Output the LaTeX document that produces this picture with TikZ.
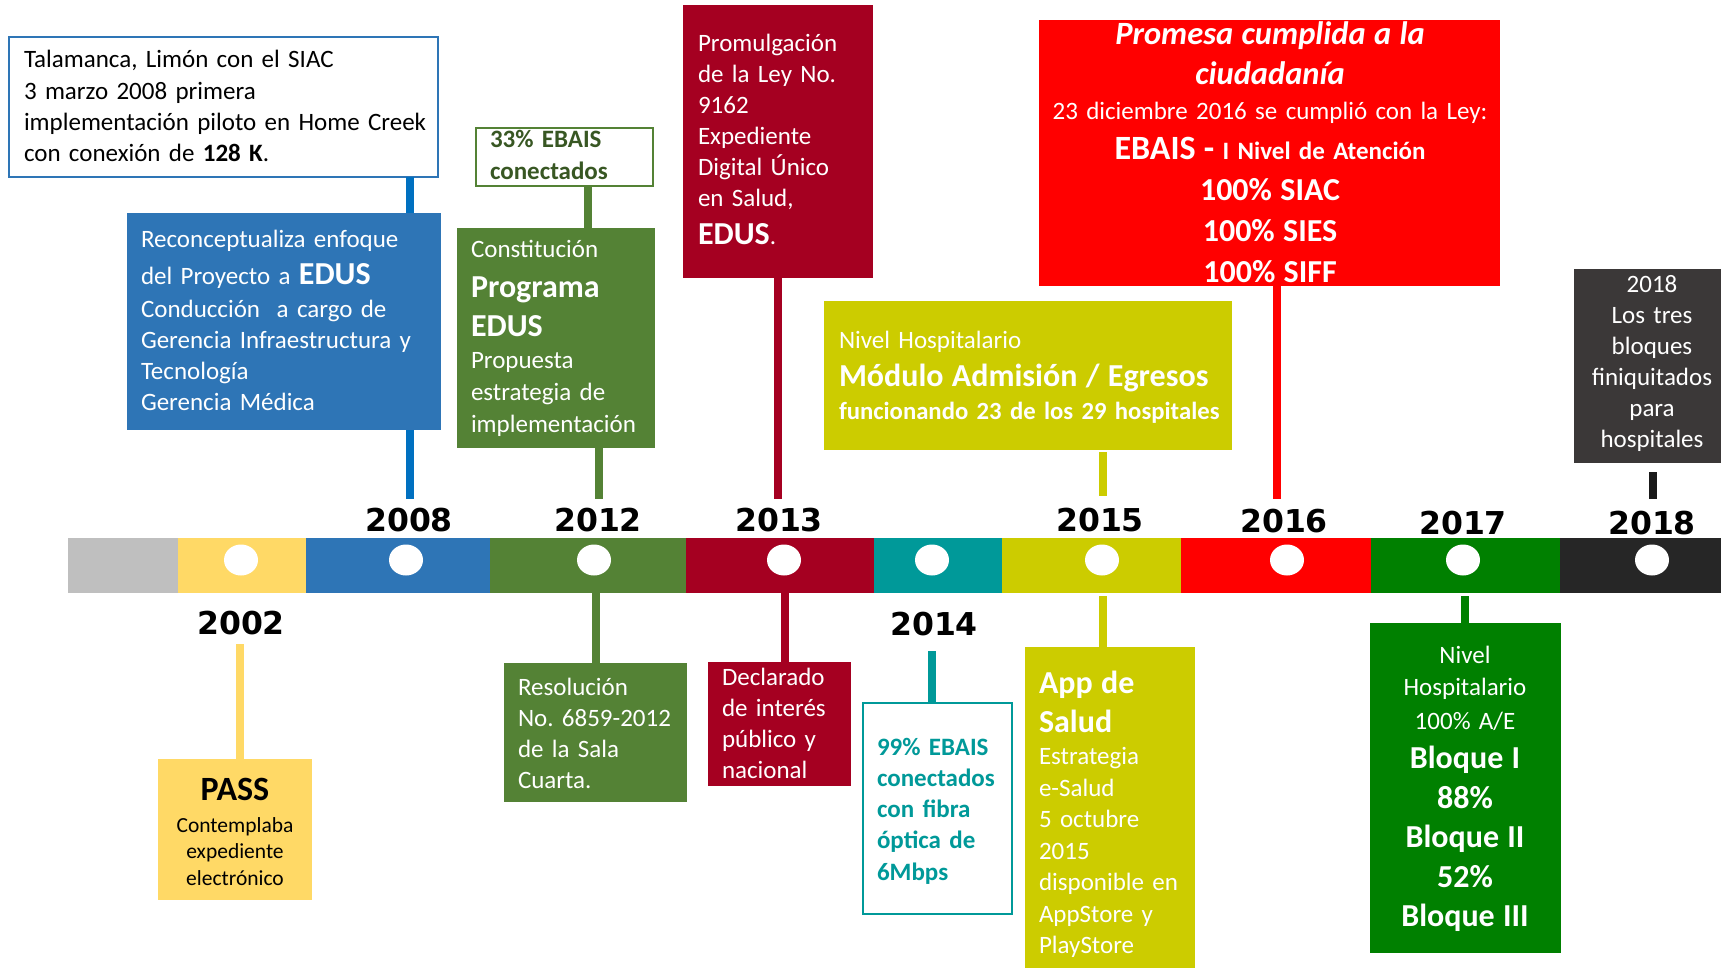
\documentclass[tikz,border=0pt]{standalone}
\usepackage{fontspec}
\setmainfont{Carlito}
\newfontfamily\yearfont{DejaVu Sans}
\usetikzlibrary{shapes.geometric}
\newcommand\myfs[2]{\fontsize{#1}{#2}\selectfont}
\frenchspacing
\definecolor{cgray}{HTML}{BFBFBF}
\definecolor{cyellow}{HTML}{FFD966}
\definecolor{cblue}{HTML}{2E75B6}
\definecolor{cblueL}{HTML}{0070C0}
\definecolor{cgreen}{HTML}{548235}
\definecolor{cdkgreen}{HTML}{385723}
\definecolor{cdred}{HTML}{A50021}
\definecolor{cteal}{HTML}{009999}
\definecolor{colive}{HTML}{CCCC00}
\definecolor{cred}{HTML}{FF0000}
\definecolor{cgreenB}{HTML}{008000}
\definecolor{cdark}{HTML}{262626}
\definecolor{cdarkbox}{HTML}{3B3838}
\definecolor{cdarkline}{HTML}{1A1A1A}
\begin{document}
\begin{tikzpicture}[x=1pt,y=-1pt,
  seg/.style={rectangle, inner sep=0, outer sep=0, anchor=north west, minimum height=55},
  box/.style={rectangle, inner sep=0, outer sep=0, anchor=north west},
  txt/.style={inner sep=0, outer sep=0, anchor=base west, align=left, text width=#1, font=\frenchspacing\myfs{25}{31}, text=white},
  ctxt/.style={inner sep=0, outer sep=0, anchor=base, align=center, text width=#1, font=\frenchspacing\myfs{25}{31}, text=white},
  conn/.style={line width=8pt},
  year/.style={font=\yearfont\bfseries\myfs{31.5}{36}, anchor=base, inner sep=0, outer sep=0},
  dot/.style={ellipse, fill=white, minimum width=34, minimum height=31, inner sep=0}]
\useasboundingbox (0,0) rectangle (1721,968);
\fill[white] (0,0) rectangle (1721,968);

% ---- timeline bar ----
\node[seg, fill=cgray,   minimum width=110] (s0) at (68,538) {};
\node[seg, fill=cyellow, minimum width=128] (s1) at (178,538) {};
\node[seg, fill=cblue,   minimum width=184] (s2) at (306,538) {};
\node[seg, fill=cgreen,  minimum width=196] (s3) at (490,538) {};
\node[seg, fill=cdred,   minimum width=188] (s4) at (686,538) {};
\node[seg, fill=cteal,   minimum width=128] (s5) at (874,538) {};
\node[seg, fill=colive,  minimum width=179] (s6) at (1002,538) {};
\node[seg, fill=cred,    minimum width=190] (s7) at (1181,538) {};
\node[seg, fill=cgreenB, minimum width=189] (s8) at (1371,538) {};
\node[seg, fill=cdark,   minimum width=161] (s9) at (1560,538) {};

\node[dot] (d2002) at (241,560) {};
\node[dot] (d2008) at (406,560) {};
\node[dot] (d2012) at (594,560) {};
\node[dot] (d2013) at (784,560) {};
\node[dot] (d2014) at (932,560) {};
\node[dot] (d2015) at (1102,560) {};
\node[dot] (d2016) at (1287,560) {};
\node[dot] (d2017) at (1463,560) {};
\node[dot] (d2018) at (1652,560) {};

% ---- year labels ----
\node[year] (y2008) at (409,531) {2008};
\node[year] (y2012) at (598,531) {2012};
\node[year] (y2013) at (779,531) {2013};
\node[year] (y2015) at (1100,531) {2015};
\node[year] (y2016) at (1284,532) {2016};
\node[year] (y2017) at (1463,534) {2017};
\node[year] (y2018) at (1652,534) {2018};
\node[year] (y2002) at (241,634) {2002};
\node[year] (y2014) at (934,635) {2014};

% ---- connector x positions ----
\coordinate (k2008) at (410,0);
\coordinate (k2012a) at (588,0);
\coordinate (k2012b) at (599,0);
\coordinate (k2012c) at (596,0);
\coordinate (k2013a) at (778,0);
\coordinate (k2013b) at (785,0);
\coordinate (k2015) at (1103,0);
\coordinate (k2016) at (1277,0);
\coordinate (k2018) at (1653,0);
\coordinate (k2002) at (240,0);
\coordinate (k2014) at (932,0);
\coordinate (k2017) at (1465,0);

% ---- boxes above ----
\node[box, draw=cblue, line width=2pt, fill=white, minimum width=429, minimum height=140] (tala) at (9,37) {};
\node[txt=430, text=black] at (24,68) {\myfs{25}{31.3}Talamanca, Limón con el SIAC\par
3 marzo 2008 primera\par
implementación piloto en Home Creek\par
con conexión de \textbf{128 K}.\par};

\node[box, fill=cblue, minimum width=314, minimum height=217] (blue) at (127,213) {};
\node[txt=300] at (141,248) {{\myfs{25}{31}Reconceptualiza enfoque\par}
{\myfs{25}{37}del Proyecto a {\myfs{32}{37}\bfseries EDUS}\par}
{\myfs{25}{33}Conducción~ a cargo de\par}
{\myfs{25}{31}Gerencia Infraestructura y\par Tecnología\par Gerencia Médica\par}};

\node[box, draw=cgreen, line width=2pt, fill=white, minimum width=177, minimum height=58] (e33) at (476,128) {};
\node[txt=170, text=cdkgreen, font=\frenchspacing\myfs{25}{32}\bfseries] at (490,148) {33\% EBAIS\par conectados\par};

\node[box, fill=cgreen, minimum width=198, minimum height=220] (green) at (457,228) {};
\node[txt=190] at (471,258) {{\myfs{25}{31}Constitución\par}
{\myfs{32}{39.5}\bfseries Programa\par EDUS\par}
{\myfs{25}{32}Propuesta\par estrategia de\par implementación\par}};

\node[box, fill=cdred, minimum width=190, minimum height=273] (prom) at (683,5) {};
\node[txt=180] at (698,52) {{\myfs{25}{31}Promulgación\par de la Ley No.\par 9162\par Expediente\par Digital Único\par en Salud,\par}
{\myfs{25}{38}{\myfs{32}{38}\bfseries EDUS}.\par}};

\node[box, fill=cred, minimum width=461, minimum height=266] (promesa) at (1039,20) {};
\node[ctxt=460] at (1270,45) {{\myfs{32.5}{40}\bfseries\itshape Promesa cumplida a la\par ciudadanía\par}
{\myfs{25}{35}23 diciembre 2016 se cumplió con la Ley:\par}
{\myfs{34}{40}\bfseries EBAIS - {\myfs{25}{40}I Nivel de Atención}\par}
{\myfs{32}{41}\bfseries 100\% SIAC\par 100\% SIES\par 100\% SIFF\par}};

\node[box, fill=colive, minimum width=408, minimum height=149] (modulo) at (824,301) {};
\node[txt=400] at (839,348) {{\myfs{25}{31}Nivel Hospitalario\par}
{\myfs{32}{39}\bfseries Módulo Admisión / Egresos\par}
{\myfs{24.7}{32}\bfseries funcionando 23 de los 29 hospitales\par}};

\node[box, fill=cdarkbox, minimum width=147, minimum height=194] (dark) at (1574,269) {};
\node[ctxt=150, font=\myfs{25}{30.8}] at (1652,293) {2018\par Los tres\par bloques\par finiquitados\par para\par hospitales\par};

% ---- boxes below ----
\node[box, fill=cyellow, minimum width=154, minimum height=141] (pass) at (158,759) {};
\node[ctxt=150, text=black] at (235,800) {{\myfs{34}{40}\bfseries PASS\par}
{\myfs{21.5}{32}Contemplaba\par}
{\myfs{21.5}{26.5}expediente\par electrónico\par}};

\node[box, fill=cgreen, minimum width=183, minimum height=139] (resol) at (504,663) {};
\node[txt=170] at (518,695) {Resolución\par No. 6859-2012\par de la Sala\par Cuarta.\par};

\node[box, fill=cdred, minimum width=143, minimum height=124] (decl) at (708,662) {};
\node[txt=135] at (722,685) {Declarado\par de interés\par público y\par nacional\par};

\node[box, draw=cteal, line width=2pt, fill=white, minimum width=149, minimum height=211] (fibra) at (863,703) {};
\node[txt=140, text=cteal, font=\frenchspacing\myfs{25}{31.3}\bfseries] at (877,755) {99\% EBAIS\par conectados\par con fibra\par óptica de\par 6Mbps\par};

\node[box, fill=colive, minimum width=170, minimum height=321] (app) at (1025,647) {};
\node[txt=160] at (1039,693) {{\myfs{32}{39}\bfseries App de\par Salud\par}
{\myfs{25}{32.5}Estrategia\par}
{\myfs{25}{31.5}e-Salud\par 5 octubre\par 2015\par disponible en\par AppStore y\par PlayStore\par}};

\node[box, fill=cgreenB, minimum width=191, minimum height=330] (bloques) at (1370,623) {};
\node[ctxt=185] at (1465,663) {{\myfs{25}{32}Nivel\par Hospitalario\par}
{\myfs{25}{34}100\% A/E\par}
{\myfs{32}{39.5}\bfseries Bloque I\par 88\%\par Bloque II\par 52\%\par Bloque III\par}};

% ---- connectors ----
\draw[conn, cblueL] (tala.south -| k2008) -- (blue.north -| k2008);
\draw[conn, cblueL, shorten >=9pt] (blue.south -| k2008) -- (y2008.north -| k2008);
\draw[conn, cgreen] (e33.south -| k2012a) -- (green.north -| k2012a);
\draw[conn, cgreen, shorten >=9pt] (green.south -| k2012b) -- (y2012.north -| k2012b);
\draw[conn, cdred, shorten >=9pt] (prom.south -| k2013a) -- (y2013.north -| k2013a);
\draw[conn, colive, shorten <=2pt, shorten >=12pt] (modulo.south -| k2015) -- (y2015.north -| k2015);
\draw[conn, cred, shorten >=10pt] (promesa.south -| k2016) -- (y2016.north -| k2016);
\draw[conn, cdarkline, shorten <=9pt, shorten >=12pt] (dark.south -| k2018) -- (y2018.north -| k2018);

\draw[conn, cyellow, shorten <=10pt] (y2002.south -| k2002) -- (pass.north -| k2002);
\draw[conn, cgreen] (s3.south -| k2012c) -- (resol.north -| k2012c);
\draw[conn, cdred] (s4.south -| k2013b) -- (decl.north -| k2013b);
\draw[conn, cteal, shorten <=16pt] (y2014.south -| k2014) -- (fibra.north -| k2014);
\draw[conn, colive, shorten <=3pt] (s6.south -| k2015) -- (app.north -| k2015);
\draw[conn, cgreenB, shorten <=3pt] (s8.south -| k2017) -- (bloques.north -| k2017);
\end{tikzpicture}
\end{document}
